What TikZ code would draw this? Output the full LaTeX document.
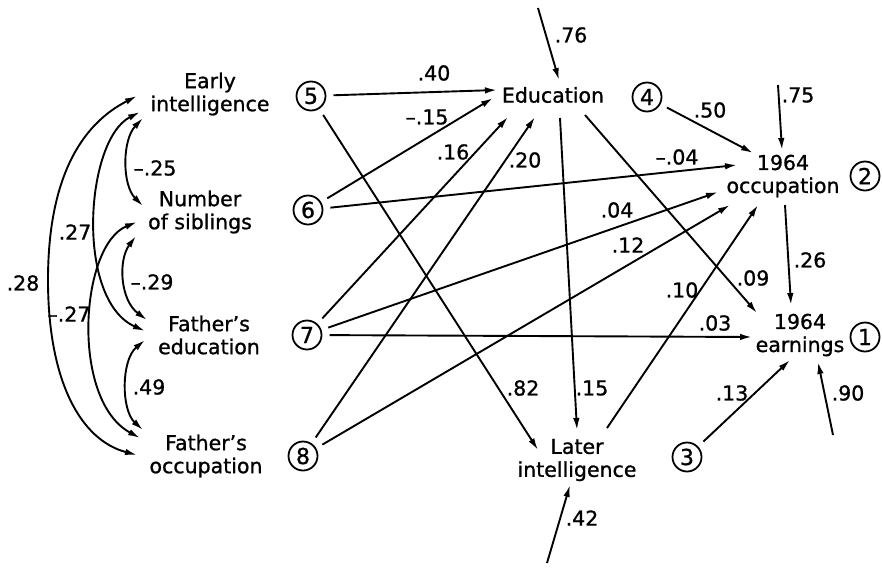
\documentclass[tikz,border=0pt]{standalone}
\usepackage{fontspec}
\setmainfont{DejaVu Sans}
\newfontfamily\heavysans{DejaVu Sans}[FakeBold=1,Ligatures=TeX]
\usetikzlibrary{arrows.meta,calc}

\begin{document}
\begin{tikzpicture}[x=1pt,y=-1pt,
  lab/.style={font=\heavysans\fontsize{20.5}{23}\selectfont, align=center, inner sep=0pt},
  coef/.style={font=\heavysans\fontsize{20.5}{23}\selectfont, inner sep=0pt},
  res/.style={circle, draw, line width=1.8pt, minimum size=29pt, inner sep=0pt,
              outer sep=8pt, font=\heavysans\fontsize{22}{22}\selectfont},
  link/.style={line width=1.9pt, -{Latex[length=12pt,width=6.5pt]}},
  corr/.style={line width=1.9pt, {Latex[length=12pt,width=6.5pt]}-{Latex[length=12pt,width=6.5pt]}},
]
\fill[white] (0,0) rectangle (882,568);
\useasboundingbox (0,0) rectangle (882,568);

% variables
\node[lab] (ei)   at (210,94)  {Early\\intelligence};
\node[lab] (ns)   at (200,212) {Number\\of siblings};
\node[lab] (fe)   at (209,335) {Father’s\\education};
\node[lab] (fo)   at (206,456) {Father’s\\occupation};
\node[lab] (edu)  at (553,95)  {Education};
\node[lab] (occ)  at (783,176) {1964\\occupation};
\node[lab] (earn) at (800,335) {1964\\earnings};
\node[lab] (li)   at (577,460) {Later\\intelligence};

% circled residual / path numbers
\node[res] (c1) at (865,337) {1};
\node[res] (c2) at (865,176) {2};
\node[res] (c3) at (687,457) {3};
\node[res] (c4) at (647,97)  {4};
\node[res] (c5) at (311,96)  {5};
\node[res] (c6) at (308,210) {6};
\node[res] (c7) at (307,335) {7};
\node[res] (c8) at (303,456) {8};

% free ends of the disturbance arrows
\coordinate (u76) at (538,8);
\coordinate (u75) at (778,85);
\coordinate (u90) at (833,435);
\coordinate (u42) at (547,563);

% correlations among the background variables
\draw[corr] ($(ei)+(-73,2)$) .. controls (80,125) and (48,180) .. (48,280)
            .. controls (48,380) and (80,440) .. ($(fo)+(-69,-1)$);
\draw[corr] ($(ei)+(-70,18)$) .. controls (85,140) and (75,300) .. ($(fe)+(-64,-4)$);
\draw[corr] ($(ns)+(-63,10)$) .. controls (80,245) and (70,400) .. ($(fo)+(-66,-18)$);
\draw[corr] ($(ei)+(-67,24)$) .. controls (122,140) and (122,185) .. ($(ns)+(-57,-6)$);
\draw[corr] ($(ns)+(-64,24)$) .. controls (118,260) and (120,300) .. ($(fe)+(-62,-15)$);
\draw[corr] ($(fe)+(-64,5)$) .. controls (121,360) and (121,410) .. ($(fo)+(-63,-26)$);

\node[coef] (k28)  at (23,283)  {.28};
\node[coef] (k27)  at (75,232)  {.27};
\node[coef] (km27) at (69,314)  {–.27};
\node[coef] (km25) at (155,168) {–.25};
\node[coef] (km29) at (152,282) {–.29};
\node[coef] (k49)  at (149,387) {.49};

% paths to Education
\draw[link] (c5) -- ($(edu)+(-56,-5)$);
\draw[link] (c6) -- ($(edu)+(-60,3)$);
\draw[link] (c7) -- ($(edu)+(-45,22)$);
\draw[link] (c8) -- ($(edu)+(-18,22)$);
\draw[link] (u76) -- ($(edu)+(6,-15)$);

% paths to 1964 occupation
\draw[link] (c4) -- ($(occ)+(-30,-23)$);
\draw[link] (c6) -- ($(occ)+(-46,-11)$);
\draw[link] (c7) -- ($(occ)+(-65,16)$);
\draw[link] (c8) -- ($(occ)+(-53,29)$);
\draw[link] (u75) -- ($(occ)+(-1,-26)$);
\draw[link] ($(li)+(30,-32)$) -- ($(occ)+(-25,29)$);

% paths to 1964 earnings
\draw[link] (c7) -- ($(earn)+(-48,2)$);
\draw[link] (c3) -- ($(earn)+(-10,25)$);
\draw[link] (u90) -- ($(earn)+(18,27)$);
\draw[link] ($(edu)+(32,20)$) -- ($(earn)+(-43,-22)$);
\draw[link] ($(occ)+(2,29)$) -- ($(earn)+(-9,-30)$);

% paths to later intelligence
\draw[link] (c5) -- ($(li)+(-39,-10)$);
\draw[link] ($(edu)+(7,23)$) -- ($(li)+(0,-30)$);
\draw[link] (u42) -- ($(li)+(-7,25)$);

% path coefficients
\node[coef] (k40)  at (434,73)  {.40};
\node[coef] (km15) at (427,117) {–.15};
\node[coef] (k16)  at (453,152) {.16};
\node[coef] (k20)  at (525,160) {.20};
\node[coef] (k76)  at (571,35)  {.76};
\node[coef] (k50)  at (710,110) {.50};
\node[coef] (k75)  at (798,95)  {.75};
\node[coef] (km04) at (677,157) {–.04};
\node[coef] (k04)  at (617,210) {.04};
\node[coef] (k12)  at (628,245) {.12};
\node[coef] (k26)  at (810,260) {.26};
\node[coef] (k09)  at (753,278) {.09};
\node[coef] (k10)  at (682,290) {.10};
\node[coef] (k03)  at (715,323) {.03};
\node[coef] (k82)  at (523,388) {.82};
\node[coef] (k15)  at (592,388) {.15};
\node[coef] (k13)  at (732,393) {.13};
\node[coef] (k90)  at (848,393) {.90};
\node[coef] (k42)  at (582,518) {.42};
\end{tikzpicture}
\end{document}
